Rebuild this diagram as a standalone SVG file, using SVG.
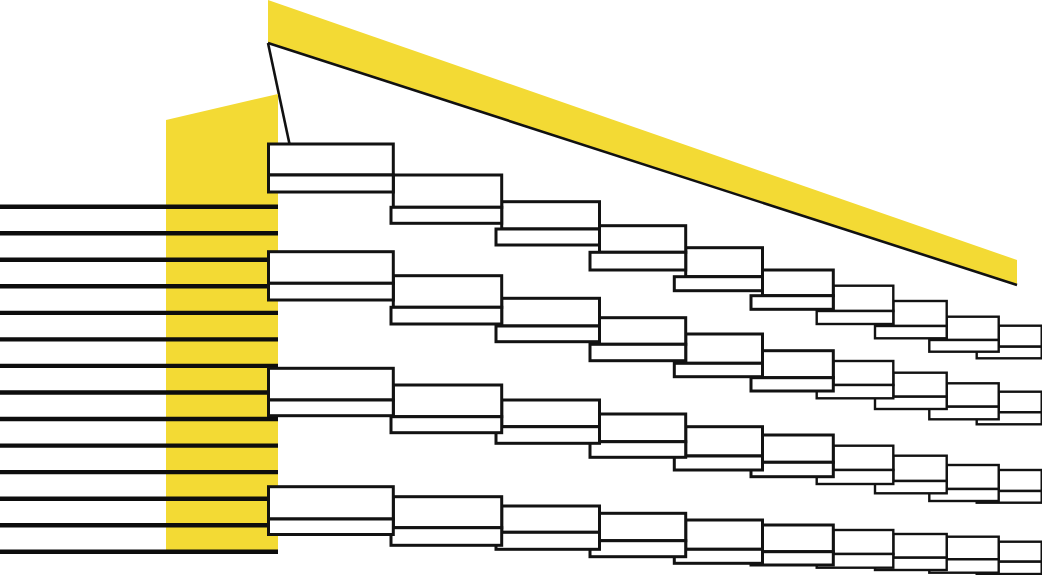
<svg xmlns="http://www.w3.org/2000/svg" width="1042" height="575" viewBox="0 0 1042 575">
<style>
.yel{fill:#F3DA34;stroke:none}
.floor{stroke:#0d0d0d;stroke-width:4.4;fill:none}
.box rect{fill:#fff;stroke:#121212;stroke-width:3}
.thin rect{stroke-width:2.4}
.edge{stroke:#111;fill:none;stroke-width:2.6}
</style>
<rect width="1042" height="575" fill="#fff"/>
<g id="roof">
<polygon class="yel" points="268,0 1017,260 1017,285 268,43"/>
<line class="edge" x1="268" y1="43" x2="1017" y2="285" stroke-width="3"/>
<line class="edge" x1="268" y1="43" x2="289.5" y2="144"/>
</g>
<g id="wing">
<polygon class="yel" points="166,120 278,94 278,553 166,553"/>
</g>
<g id="floors">
<line class="floor" x1="0" y1="206.7" x2="278" y2="206.7"/>
<line class="floor" x1="0" y1="233.2" x2="278" y2="233.2"/>
<line class="floor" x1="0" y1="259.8" x2="278" y2="259.8"/>
<line class="floor" x1="0" y1="286.3" x2="278" y2="286.3"/>
<line class="floor" x1="0" y1="312.9" x2="278" y2="312.9"/>
<line class="floor" x1="0" y1="339.4" x2="278" y2="339.4"/>
<line class="floor" x1="0" y1="365.9" x2="278" y2="365.9"/>
<line class="floor" x1="0" y1="392.5" x2="278" y2="392.5"/>
<line class="floor" x1="0" y1="419.0" x2="278" y2="419.0"/>
<line class="floor" x1="0" y1="445.6" x2="278" y2="445.6"/>
<line class="floor" x1="0" y1="472.1" x2="278" y2="472.1"/>
<line class="floor" x1="0" y1="498.7" x2="278" y2="498.7"/>
<line class="floor" x1="0" y1="525.2" x2="278" y2="525.2"/>
<line class="floor" x1="0" y1="551.7" x2="278" y2="551.7"/>
</g>
<g id="row1">
<g id="r1c10" class="box thin"><rect x="998.7" y="325.7" width="43" height="21"/><rect x="976.7" y="346.7" width="65" height="11.6"/></g>
<g id="r1c9" class="box thin"><rect x="946.7" y="316.7" width="52" height="23.3"/><rect x="929.3" y="340" width="69.4" height="11.7"/></g>
<g id="r1c8" class="box thin"><rect x="893.3" y="301" width="53.4" height="25"/><rect x="875" y="326" width="71.7" height="12.3"/></g>
<g id="r1c7" class="box thin"><rect x="833.3" y="285.7" width="60" height="25.3"/><rect x="816.7" y="311" width="76.6" height="13"/></g>
<g id="r1c6" class="box"><rect x="762.5" y="270" width="70.8" height="25.7"/><rect x="751" y="295.7" width="82.3" height="13.6"/></g>
<g id="r1c5" class="box"><rect x="685.7" y="247.7" width="76.8" height="29"/><rect x="674.3" y="276.7" width="88.2" height="14"/></g>
<g id="r1c4" class="box"><rect x="599.5" y="225.7" width="86.2" height="26.6"/><rect x="590" y="252.3" width="95.7" height="17.7"/></g>
<g id="r1c3" class="box"><rect x="501.7" y="201.7" width="97.8" height="27.3"/><rect x="496" y="229" width="103.5" height="16"/></g>
<g id="r1c2" class="box"><rect x="393.3" y="175" width="108.4" height="32.3"/><rect x="391" y="207.3" width="110.7" height="16"/></g>
<g id="r1c1" class="box"><rect x="268.5" y="144" width="124.8" height="31"/><rect x="268.5" y="175" width="124.8" height="17"/></g>
</g>
<g id="row2">
<g id="r2c10" class="box thin"><rect x="998.7" y="391.7" width="43" height="20.6"/><rect x="976.7" y="412.3" width="65" height="12"/></g>
<g id="r2c9" class="box thin"><rect x="946.7" y="383.3" width="52" height="23.4"/><rect x="929.3" y="406.7" width="69.4" height="12.6"/></g>
<g id="r2c8" class="box thin"><rect x="893.3" y="372.7" width="53.4" height="24"/><rect x="875" y="396.7" width="71.7" height="12.3"/></g>
<g id="r2c7" class="box thin"><rect x="833.3" y="361" width="60" height="24"/><rect x="816.7" y="385" width="76.6" height="13.3"/></g>
<g id="r2c6" class="box"><rect x="762.5" y="350.7" width="70.8" height="27"/><rect x="751" y="377.7" width="82.3" height="13.3"/></g>
<g id="r2c5" class="box"><rect x="685.7" y="334" width="76.8" height="29.3"/><rect x="674.3" y="363.3" width="88.2" height="13.4"/></g>
<g id="r2c4" class="box"><rect x="599.5" y="317.7" width="86.2" height="26.6"/><rect x="590" y="344.3" width="95.7" height="16.4"/></g>
<g id="r2c3" class="box"><rect x="501.7" y="298.3" width="97.8" height="27.7"/><rect x="496" y="326" width="103.5" height="15.7"/></g>
<g id="r2c2" class="box"><rect x="393.3" y="275.7" width="108.4" height="31.6"/><rect x="391" y="307.3" width="110.7" height="16.7"/></g>
<g id="r2c1" class="box"><rect x="268.5" y="251.7" width="124.8" height="31.6"/><rect x="268.5" y="283.3" width="124.8" height="16.7"/></g>
</g>
<g id="row3">
<g id="r3c10" class="box thin"><rect x="998.7" y="470" width="43" height="21"/><rect x="976.7" y="491" width="65" height="11.7"/></g>
<g id="r3c9" class="box thin"><rect x="946.7" y="465" width="52" height="24"/><rect x="929.3" y="489" width="69.4" height="12"/></g>
<g id="r3c8" class="box thin"><rect x="893.3" y="455.7" width="53.4" height="25.3"/><rect x="875" y="481" width="71.7" height="12.3"/></g>
<g id="r3c7" class="box thin"><rect x="833.3" y="445.7" width="60" height="24.3"/><rect x="816.7" y="470" width="76.6" height="14"/></g>
<g id="r3c6" class="box"><rect x="762.5" y="435" width="70.8" height="27.3"/><rect x="751" y="462.3" width="82.3" height="14.4"/></g>
<g id="r3c5" class="box"><rect x="685.7" y="426.7" width="76.8" height="29.3"/><rect x="674.3" y="456" width="88.2" height="14"/></g>
<g id="r3c4" class="box"><rect x="599.5" y="414" width="86.2" height="27.7"/><rect x="590" y="441.7" width="95.7" height="15.6"/></g>
<g id="r3c3" class="box"><rect x="501.7" y="400" width="97.8" height="26.7"/><rect x="496" y="426.7" width="103.5" height="16.6"/></g>
<g id="r3c2" class="box"><rect x="393.3" y="385" width="108.4" height="31.7"/><rect x="391" y="416.7" width="110.7" height="16"/></g>
<g id="r3c1" class="box"><rect x="268.5" y="368.3" width="124.8" height="31.7"/><rect x="268.5" y="400" width="124.8" height="15.7"/></g>
</g>
<g id="row4">
<g id="r4c10" class="box thin"><rect x="998.7" y="541.7" width="43" height="20"/><rect x="976.7" y="561.7" width="65" height="12.3"/></g>
<g id="r4c9" class="box thin"><rect x="946.7" y="536.7" width="52" height="22.6"/><rect x="929.3" y="559.3" width="69.4" height="13.4"/></g>
<g id="r4c8" class="box thin"><rect x="893.3" y="534" width="53.4" height="23.7"/><rect x="875" y="557.7" width="71.7" height="12.3"/></g>
<g id="r4c7" class="box thin"><rect x="833.3" y="530" width="60" height="24"/><rect x="816.7" y="554" width="76.6" height="13.7"/></g>
<g id="r4c6" class="box"><rect x="762.5" y="525" width="70.8" height="26.7"/><rect x="751" y="551.7" width="82.3" height="13.3"/></g>
<g id="r4c5" class="box"><rect x="685.7" y="520" width="76.8" height="29.3"/><rect x="674.3" y="549.3" width="88.2" height="14"/></g>
<g id="r4c4" class="box"><rect x="599.5" y="513.3" width="86.2" height="27.4"/><rect x="590" y="540.7" width="95.7" height="16"/></g>
<g id="r4c3" class="box"><rect x="501.7" y="506" width="97.8" height="26.3"/><rect x="496" y="532.3" width="103.5" height="17"/></g>
<g id="r4c2" class="box"><rect x="393.3" y="496.7" width="108.4" height="31"/><rect x="391" y="527.7" width="110.7" height="17.6"/></g>
<g id="r4c1" class="box"><rect x="268.5" y="486.7" width="124.8" height="32.3"/><rect x="268.5" y="519" width="124.8" height="15.5"/></g>
</g>
</svg>
